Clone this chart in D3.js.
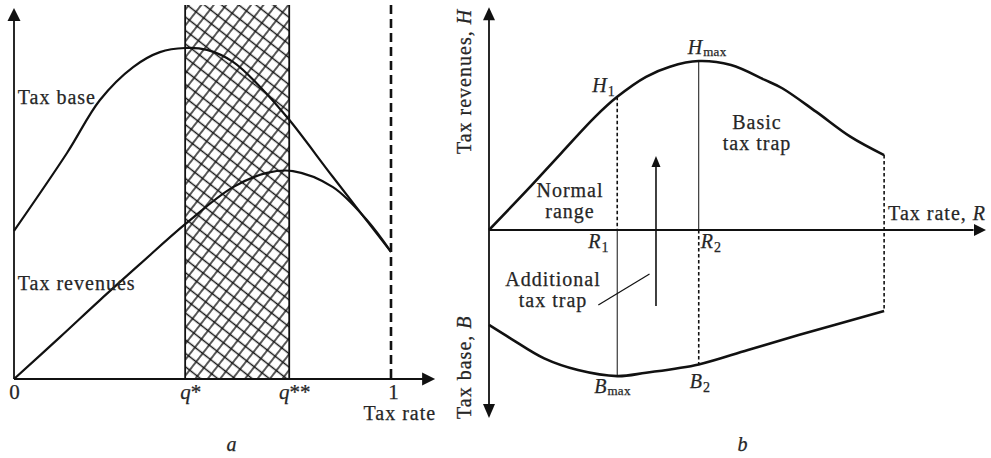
<!DOCTYPE html>
<html>
<head>
<meta charset="utf-8">
<script src="https://cdn.jsdelivr.net/npm/d3@7"></script>
<style>
  html, body { margin: 0; padding: 0; background: #fff; }
  svg { display: block; }
  text { font-family: "Liberation Serif", "Times New Roman", serif; fill: #262626; }
</style>
</head>
<body>
<svg id="chart" width="991" height="458"></svg>
<script>
// ---- Panel a: tax base and tax revenues against the tax rate ----
const aBaseRate    = [0, 0.141, 0.228, 0.316, 0.387, 0.454, 0.512, 0.581, 0.653, 0.73, 0.846, 1.0];
const aBaseValue   = [39.6, 60.5, 74.6, 83.4, 87.4, 88.5, 88.0, 84.8, 78.1, 69.3, 54.0, 34.0];
const aRevenueRate = [0, 0.122, 0.228, 0.334, 0.454, 0.581, 0.671, 0.74, 0.846, 0.936, 1.0];
const aRevenue     = [0, 11.2, 21.1, 30.7, 41.4, 51.3, 55.1, 55.6, 51.3, 42.5, 34.0];
const aTickValues  = [0, 0.454, 0.73, 1];
const aTickLabels  = ["0", "q*", "q**", "1"];
const aCurveLabels = ["Tax base", "Tax revenues"];

// ---- Panel b: tax revenues H (up) and tax base B (down) against rate R ----
const bRevenueRate = [0, 7.7, 14.5, 21.4, 25.8, 31.6, 36.4, 42.2, 48.7, 55.5, 59.0, 65.8, 72.7, 79.5];
const bRevenue     = [0, 17.8, 34.1, 50.4, 59.2, 68.1, 72.6, 75.1, 73.3, 66.7, 63.0, 52.6, 41.5, 33.3];
const bBaseRate    = [0, 4.3, 11.1, 17.9, 25.8, 31.6, 42.2, 52.1, 62.3, 79.5];
const bBaseValue   = [50.5, 57.6, 68.3, 74.5, 77.7, 75.9, 71.5, 63.8, 55.9, 43.1];

const svg = d3.select("#chart");
const INK = "#111";
const FONT = 20;
const SPACING = 1.0;

function arrowHead(g, x, y, dir, len, half) {
  // dir: "up" | "down" | "right"
  let p;
  if (dir === "up") p = [[x, y], [x - half, y + len], [x + half, y + len]];
  else if (dir === "down") p = [[x, y], [x - half, y - len], [x + half, y - len]];
  else p = [[x, y], [x - len, y - half], [x - len, y + half]];
  g.append("path").attr("d", "M" + p.join("L") + "Z").attr("fill", INK);
}

function label(g, x, y, parts, anchor) {
  const t = g.append("text").attr("x", x).attr("y", y)
    .attr("font-size", FONT).attr("letter-spacing", SPACING)
    .attr("stroke", "#262626").attr("stroke-width", 0.25)
    .attr("text-anchor", anchor || "start");
  parts.forEach(p => {
    const s = t.append("tspan").text(p.t);
    if (p.i) s.attr("font-style", "italic");
    if (p.size) s.attr("font-size", p.size).attr("letter-spacing", 0.3);
    if (p.dy) s.attr("dy", p.dy);
  });
  return t;
}

// ================= Panel a =================
const xA = d3.scaleLinear().domain([0, 1]).range([14, 391]);
const yA = d3.scaleLinear().domain([0, 100]).range([379, 5]);
const gA = svg.append("g");

// cross-hatch for the band between q* and q**
const defs = svg.append("defs");
const pat = defs.append("pattern").attr("id", "hatch")
  .attr("patternUnits", "userSpaceOnUse").attr("width", 9.8).attr("height", 10.6)
  .attr("patternTransform", "rotate(38)");
pat.append("path").attr("d", "M0,5.3H9.8M4.9,0V10.6")
  .attr("stroke", "#141414").attr("stroke-width", 1.4).attr("fill", "none");

const qStar = aTickValues[1], qStar2 = aTickValues[2];
gA.append("rect")
  .attr("x", xA(qStar)).attr("y", yA(100))
  .attr("width", xA(qStar2) - xA(qStar)).attr("height", yA(0) - yA(100))
  .attr("fill", "url(#hatch)");
[qStar, qStar2].forEach(q => {
  gA.append("line").attr("x1", xA(q)).attr("x2", xA(q))
    .attr("y1", yA(100)).attr("y2", yA(0))
    .attr("stroke", INK).attr("stroke-width", 1.8);
});
// dashed limit at tax rate 1
gA.append("line").attr("x1", xA(1)).attr("x2", xA(1))
  .attr("y1", yA(100)).attr("y2", yA(0))
  .attr("stroke", INK).attr("stroke-width", 2.6).attr("stroke-dasharray", "9,5");

const lineA = d3.line().curve(d3.curveCatmullRom.alpha(0.5));
gA.append("path")
  .attr("d", lineA(aBaseRate.map((r, i) => [xA(r), yA(aBaseValue[i])])))
  .attr("fill", "none").attr("stroke", INK).attr("stroke-width", 2.2);
gA.append("path")
  .attr("d", lineA(aRevenueRate.map((r, i) => [xA(r), yA(aRevenue[i])])))
  .attr("fill", "none").attr("stroke", INK).attr("stroke-width", 2.2);

// axes
gA.append("line").attr("x1", xA(0)).attr("x2", xA(1.105)).attr("y1", yA(0)).attr("y2", yA(0))
  .attr("stroke", INK).attr("stroke-width", 1.8);
arrowHead(gA, xA(1.117), yA(0), "right", 13, 6.5);
gA.append("line").attr("x1", xA(0)).attr("x2", xA(0)).attr("y1", yA(0)).attr("y2", yA(96))
  .attr("stroke", INK).attr("stroke-width", 1.8);
arrowHead(gA, xA(0), yA(99.2), "up", 13, 6.5);

// tick labels along the tax-rate axis
const axA = d3.axisBottom(xA).tickValues(aTickValues).tickSize(0).tickPadding(5)
  .tickFormat((d, i) => aTickLabels[i]);
const axG = gA.append("g").attr("transform", `translate(0,${yA(0)})`).call(axA);
axG.select(".domain").remove();
axG.selectAll("text").each(function (d, i) {
  const t = d3.select(this);
  const s = aTickLabels[i];
  t.text(null).attr("font-size", FONT + 1).attr("font-family", "Liberation Serif, serif")
    .attr("fill", "#262626").attr("stroke", "#262626").attr("stroke-width", 0.25)
    .attr("dy", "0.72em");
  if (s.startsWith("q")) {
    t.attr("dx", 5);
    t.append("tspan").attr("font-style", "italic").text("q");
    t.append("tspan").text(s.slice(1));
  } else {
    t.text(s).attr("dx", i === 3 ? 2 : 0);
  }
});
label(gA, xA(0.927), 420, [{ t: "Tax rate" }]);
label(gA, xA(0.01), 104, [{ t: aCurveLabels[0] }]);
label(gA, xA(0.01), 290, [{ t: aCurveLabels[1] }]);
label(gA, 232, 451, [{ t: "a", i: true }], "middle");

// ================= Panel b =================
const xB = d3.scaleLinear().domain([0, 100]).range([489, 986]);
const yH = d3.scaleLinear().domain([0, 100]).range([230, 5]);
const yB = d3.scaleLinear().domain([0, 100]).range([230, 418]);
const gB = svg.append("g");

const R1 = bRevenueRate[4], R2 = bRevenueRate[7];
const H1 = bRevenue[4], Hmax = bRevenue[7];
const Bmax = bBaseValue[4], B2 = bBaseValue[6];
const Rend = bRevenueRate[bRevenueRate.length - 1];
const Hend = bRevenue[bRevenue.length - 1];
const Bend = bBaseValue[bBaseValue.length - 1];

function vline(x, y1, y2, dashed, w) {
  gB.append("line").attr("x1", x).attr("x2", x).attr("y1", y1).attr("y2", y2)
    .attr("stroke", INK).attr("stroke-width", w)
    .attr("stroke-dasharray", dashed ? "3.5,2.5" : null);
}
vline(xB(R1), yH(H1), yH(0), true, 1.6);
vline(xB(R1), yB(0), yB(Bmax), false, 1);
vline(xB(R2), yH(Hmax), yH(0), false, 1);
vline(xB(R2), yB(0), yB(B2), true, 1.6);
vline(xB(Rend), yH(Hend), yB(Bend), true, 1.6);

const lineB = d3.line().curve(d3.curveCatmullRom.alpha(0.5));
gB.append("path")
  .attr("d", lineB(bRevenueRate.map((r, i) => [xB(r), yH(bRevenue[i])])))
  .attr("fill", "none").attr("stroke", INK).attr("stroke-width", 2.6);
gB.append("path")
  .attr("d", lineB(bBaseRate.map((r, i) => [xB(r), yB(bBaseValue[i])])))
  .attr("fill", "none").attr("stroke", INK).attr("stroke-width", 2.6);

// axes
gB.append("line").attr("x1", xB(0)).attr("x2", xB(97.5)).attr("y1", yH(0)).attr("y2", yH(0))
  .attr("stroke", INK).attr("stroke-width", 1.8);
arrowHead(gB, xB(100), yH(0), "right", 12, 6);
gB.append("line").attr("x1", xB(0)).attr("x2", xB(0)).attr("y1", yH(96)).attr("y2", yB(97))
  .attr("stroke", INK).attr("stroke-width", 1.8);
arrowHead(gB, xB(0), yH(99), "up", 13, 6);
arrowHead(gB, xB(0), yB(100), "down", 14, 6);

// upward shift arrow and leader for the additional trap
const arrowX = xB(33.6);
gB.append("line").attr("x1", arrowX).attr("x2", arrowX).attr("y1", 306).attr("y2", 166)
  .attr("stroke", INK).attr("stroke-width", 1.6);
arrowHead(gB, arrowX, 156, "up", 11, 4.5);
gB.append("line").attr("x1", xB(22)).attr("y1", 305).attr("x2", xB(32.3)).attr("y2", 274)
  .attr("stroke", INK).attr("stroke-width", 1.2);

// text
label(gB, 570, 197, [{ t: "Normal" }], "middle");
label(gB, 570, 218, [{ t: "range" }], "middle");
label(gB, 757, 129, [{ t: "Basic" }], "middle");
label(gB, 757, 150, [{ t: "tax trap" }], "middle");
label(gB, 553, 286, [{ t: "Additional" }], "middle");
label(gB, 553, 307, [{ t: "tax trap" }], "middle");
label(gB, xB(Rend) + 4, yH(0) - 10, [{ t: "Tax rate, " }, { t: "R", i: true }]);
label(gB, xB(R1) - 29, yH(0) + 18, [{ t: "R", i: true }, { t: "1", size: 14, dy: 4 }]);
label(gB, xB(R2) + 2, yH(0) + 18, [{ t: "R", i: true }, { t: "2", size: 14, dy: 4 }]);
label(gB, xB(R1) - 25, yH(H1) - 5, [{ t: "H", i: true }, { t: "1", size: 14, dy: 4 }]);
label(gB, xB(R2) - 11, yH(Hmax) - 7, [{ t: "H", i: true }, { t: "max", size: 13, dy: 2 }]);
label(gB, xB(R1) - 23, yB(Bmax) + 17, [{ t: "B", i: true }, { t: "max", size: 13, dy: 2 }]);
label(gB, xB(R2) - 9, yB(B2) + 24, [{ t: "B", i: true }, { t: "2", size: 14, dy: 4 }]);
label(gB, 743, 451, [{ t: "b", i: true }], "middle");

// rotated axis titles
label(gB, 0, 0, [{ t: "Tax revenues, " }, { t: "H", i: true }], "middle")
  .attr("transform", `translate(471,${yH(66)}) rotate(-90)`);
label(gB, 0, 0, [{ t: "Tax base, " }, { t: "B", i: true }], "middle")
  .attr("transform", `translate(471,${yB(73)}) rotate(-90)`);
</script>
</body>
</html>
